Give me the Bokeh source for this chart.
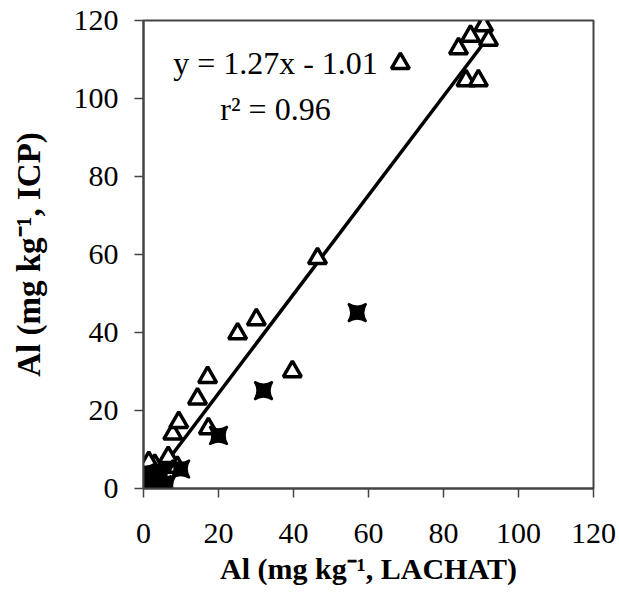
from bokeh.plotting import figure
from bokeh.models import Range1d, FixedTicker
from bokeh.core.properties import value
from bokeh.embed import file_html
from bokeh.resources import INLINE

# Open triangles (series 1)
tri_x = [0.5, 1.0, 1.5, 2.0, 3.0, 4.0, 2.5, 1.4, 6.4, 6.6, 9.0, 7.8, 9.4, 14.4, 17.1, 17.3,
         25.1, 30.1, 39.7, 46.4, 68.5, 84.0, 86.0, 87.2, 89.3, 90.7, 92.0]
tri_y = [0.5, 1.0, 2.0, 4.0, 6.0, 3.0, 1.5, 6.7, 7.2, 8.0, 5.5, 14.0, 17.0, 23.0, 28.5, 15.4,
         39.7, 43.3, 30.0, 59.0, 109.0, 112.8, 104.6, 116.0, 104.6, 118.7, 115.0]

# Filled bow-tie markers (series 2)
crs_x = [0.3, 0.8, 1.5, 2.0, 3.0, 4.0, 5.0, 6.0, 1.0, 2.5, 0.5, 4.5, 1.8, 9.9, 20.0, 32.0, 57.0]
crs_y = [0.2, 0.5, 1.0, 0.5, 1.5, 2.0, 1.0, 0.8, 2.5, 3.0, 4.0, 3.5, 1.8, 5.0, 13.6, 25.1, 45.1]

# Regression
slope, intercept = 1.27, -1.01
fit_x = [0.8, 92.0]
fit_y = [slope * x + intercept for x in fit_x]

ticks = [0, 20, 40, 60, 80, 100, 120]
FONT = "Liberation Serif"

p = figure(width=619, height=594, output_backend="svg", toolbar_location=None,
           x_range=Range1d(0, 120), y_range=Range1d(0, 120),
           min_border_left=143, min_border_right=26, min_border_top=20, min_border_bottom=106)
p.grid.visible = False
p.background_fill_color = "white"
p.border_fill_color = "white"
p.outline_line_color = "#444444"
p.outline_line_width = 2

for ax in (p.xaxis[0], p.yaxis[0]):
    ax.ticker = FixedTicker(ticks=ticks)
    ax.minor_tick_line_color = None
    ax.major_tick_in = 0
    ax.major_tick_out = 9
    ax.major_tick_line_color = "#444444"
    ax.major_tick_line_width = 1.5
    ax.axis_line_color = "#444444"
    ax.axis_line_width = 2
    ax.major_label_text_font = FONT
    ax.major_label_text_font_size = "30px"
    ax.major_label_text_color = "black"
    ax.axis_label_text_font = FONT
    ax.axis_label_text_font_style = "bold"
    ax.axis_label_text_color = "black"

p.xaxis[0].axis_label = "Al (mg kg\u207b\u00b9, LACHAT)"
p.xaxis[0].axis_label_text_font_size = "30px"
p.xaxis[0].major_label_standoff = 26
p.xaxis[0].axis_label_standoff = 6
p.yaxis[0].axis_label = "Al (mg kg\u207b\u00b9, ICP)"
p.yaxis[0].axis_label_text_font_size = "33px"
p.yaxis[0].major_label_standoff = 16
p.yaxis[0].axis_label_standoff = 24

p.line(fit_x, fit_y, line_color="black", line_width=3.5)

p.scatter(tri_x, tri_y, marker="triangle", size=18, fill_color="white",
          line_color="black", line_width=3.5)
p.scatter(crs_x, crs_y, marker="square_pin", size=18, fill_color="black",
          line_color="black", line_width=2)

p.text(x=[35.2], y=[109], text=["y = 1.27x - 1.01"], text_font=value(FONT),
       text_font_size="32px", text_align="center", text_baseline="middle", text_color="black")
p.text(x=[35.2], y=[97.4], text=["r\u00b2 = 0.96"], text_font=value(FONT),
       text_font_size="32px", text_align="center", text_baseline="middle", text_color="black")

open("out.html", "w").write(file_html(p, INLINE))
